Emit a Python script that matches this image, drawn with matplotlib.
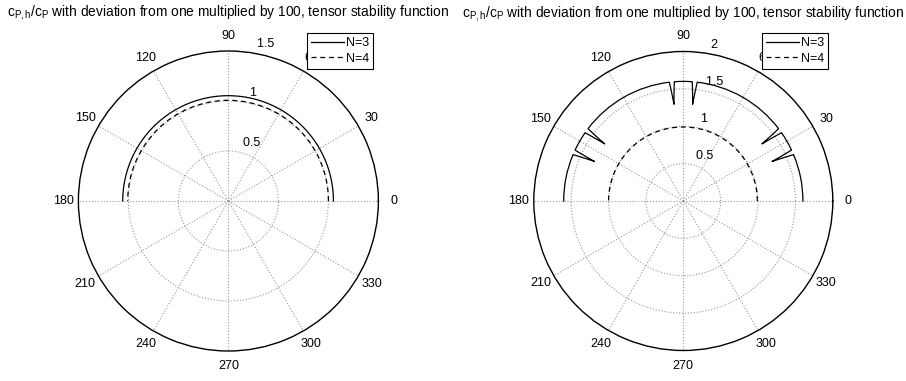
import matplotlib.pyplot as plt
import numpy as np

plt.rcParams['font.family'] = ['Liberation Sans', 'DejaVu Sans']
plt.rcParams['mathtext.fontset'] = 'custom'
plt.rcParams['mathtext.rm'] = 'Liberation Sans'
plt.rcParams['mathtext.it'] = 'Liberation Sans'

title = r'$\mathregular{c_{P,h}/c_P}$ with deviation from one multiplied by 100, tensor stability function'
angle_ticks = [0, 30, 60, 90, 120, 150, 180, 210, 240, 270, 300, 330]
legend_labels = ['N=3', 'N=4']

# left panel: almost flat response
left_theta = [0, 90, 180]
left_n3 = [1.050, 1.053, 1.057]
left_n4 = [1.000, 1.007, 1.007]
left_rticks = [0.5, 1.0, 1.5]
left_rmax = 1.5

# right panel: N=3 has narrow dips
right_theta_n3 = [0, 22.8, 24, 25.2, 34.8, 36, 37.2, 83.3, 84.5, 85.7,
                  94.3, 95.5, 96.7, 142.8, 144, 145.2, 154.8, 156, 157.2, 180]
right_n3 = [1.6, 1.6, 1.3, 1.6, 1.6, 1.3, 1.6, 1.6, 1.3, 1.6,
            1.6, 1.3, 1.6, 1.6, 1.3, 1.6, 1.6, 1.3, 1.6, 1.6]
right_theta_n4 = [0, 90, 180]
right_n4 = [0.99, 0.99, 1.0]
right_rticks = [0.5, 1.0, 1.5, 2.0]
right_rmax = 2.0

W, H = 906, 381
fig = plt.figure(figsize=(W / 100, H / 100), dpi=100)

FS = 9


def polar_panel(cx, cy, R, th3, r3, th4, r4, rticks, rmax, leg_box):
    ax = fig.add_axes([(cx - R) / W, 1 - (cy + R) / H, 2 * R / W, 2 * R / H],
                      projection='polar')
    l3, = ax.plot(np.deg2rad(th3), r3, color='k', lw=0.9, ls='-', label=legend_labels[0])
    l4, = ax.plot(np.deg2rad(th4), r4, color='k', lw=0.9, ls=(0, (4, 3)),
                  label=legend_labels[1])
    # follow the polar geometry between vertices (arcs for constant r)
    for ln in (l3, l4):
        ln.get_path()._interpolation_steps = 60
    ax.set_rlim(0, rmax)
    ax.set_rticks([t for t in rticks if t < rmax])
    ax.set_yticklabels([])
    ax.set_thetagrids(angle_ticks, [str(a) for a in angle_ticks], fontsize=FS)
    ax.tick_params(axis='x', pad=0.5)
    ax.grid(True, color='0.6', linestyle=':', linewidth=0.8)
    ax.spines['polar'].set_color('k')
    ax.spines['polar'].set_linewidth(1.0)
    # radial labels along the 82 degree ray
    for t in rticks:
        lab = ('%g' % t)
        ax.text(np.deg2rad(82), t + 0.025, '  ' + lab, ha='left', va='bottom',
                fontsize=FS, clip_on=False)
    ax.text(0.5, 1.128, title, transform=ax.transAxes, ha='center', va='center',
            fontsize=9.9)
    leg = ax.legend(loc='upper right', bbox_to_anchor=(leg_box[0] / W, 1 - leg_box[1] / H),
                    bbox_transform=fig.transFigure, fontsize=FS, frameon=True,
                    fancybox=False, edgecolor='k', framealpha=1, borderaxespad=0,
                    handlelength=2.7, handletextpad=0.15, labelspacing=0.3,
                    borderpad=0.3)
    leg.get_frame().set_linewidth(0.8)
    leg.set_zorder(10)
    return ax


polar_panel(228.4, 201, 150, left_theta, left_n3, left_theta, left_n4,
            left_rticks, left_rmax, (373.3, 33.3))
polar_panel(683.3, 201, 149.5, right_theta_n3, right_n3, right_theta_n4, right_n4,
            right_rticks, right_rmax, (828.3, 33.3))

fig.savefig('out.png', dpi=100)
